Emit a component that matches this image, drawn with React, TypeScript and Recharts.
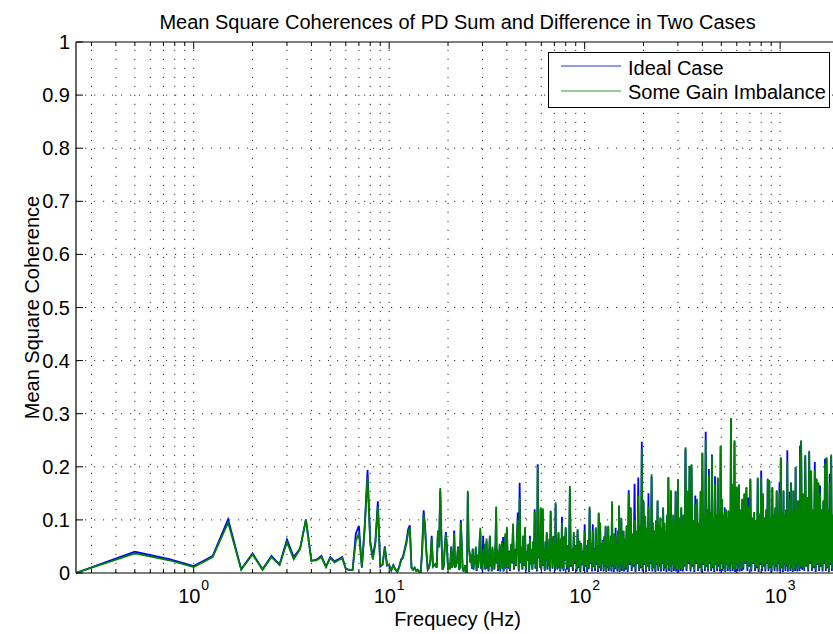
import React from "react";
import { LineChart, Line, XAxis, YAxis, ReferenceLine, Legend } from "recharts";

const FONT = "'Liberation Sans', Arial, Helvetica, sans-serif";

// frequency bands: first bin (Hz) and bin spacing (Hz)
const bandStartHz = [0.25, 26.25, 40.5, 81, 162, 324, 648, 1296];
const bandStepHz = [0.25, 0.25, 0.5, 1, 2, 4, 8, 16];

// mean square coherence, in hundredths, one value per bin
const idealA = [
  0, 4.0, 2.6, 1.3, 3.2, 10.1, 0.7, 3.7,
  0.7, 3.2, 1.6, 6.3, 3.0, 4.6, 10.1, 2.3,
  2.5, 3.2, 1.2, 3.0, 2.2, 2.6, 3.0, 0.8,
  0.6, 0.6, 7.4, 8.9, 1.0, 9.0, 19.4, 6.0,
  3.0, 6.0, 13.5, 1.2, 1.6, 5.0, 1.4, 1.5,
  0.5, 1.5, 0.7, 0.2, 1.2, 2.5, 3.0, 4.5,
  6.0, 8.2, 9.0, 1.0, 0.6, 1.0, 0.4, 0.6,
  0.2, 0.2, 4.5, 11.8, 9.0, 4.0, 0.6, 1.0,
  2.4, 7.0, 1.2, 1.5, 1.7, 1.0, 7.5, 5.0,
  15.5, 6.8, 0.6, 1.2, 5.0, 7.7, 5.0, 0.7,
  1.5, 0.7, 5.0, 1.0, 2.0, 8.0, 1.0, 1.5,
  2.6, 5.0, 0.6, 1.0, 10.0, 5.5, 1.0, 0.4,
  0.5, 1.5, 0.2, 0.2, 15.0, 4.5, 4.0, 2.0,
];
const gainA = [
  0, 3.7, 2.4, 1.1, 3.0, 9.5, 0.6, 3.5,
  0.6, 3.0, 1.5, 5.8, 2.6, 4.5, 10.0, 2.3,
  2.4, 3.0, 1.1, 2.8, 2.0, 2.4, 2.8, 0.8,
  0.6, 0.6, 6.0, 7.5, 1.2, 8.5, 18.0, 5.5,
  2.5, 5.5, 12.5, 1.5, 1.6, 4.8, 1.5, 1.5,
  0.5, 1.4, 0.7, 0.3, 1.0, 2.3, 2.8, 4.2,
  5.5, 7.5, 8.5, 1.2, 0.6, 1.0, 0.4, 0.6,
  0.2, 0.3, 4.0, 11.0, 8.5, 3.8, 0.7, 1.0,
  2.3, 6.5, 1.2, 1.4, 1.6, 1.0, 8.0, 4.8,
  16.0, 6.5, 0.6, 1.2, 4.8, 7.3, 4.8, 0.8,
  1.4, 0.7, 4.8, 1.0, 2.0, 7.5, 1.0, 1.5,
  2.5, 4.8, 0.6, 1.0, 9.5, 5.3, 1.0, 0.4,
  0.5, 1.5, 0.2, 0.2, 15.5, 4.5, 3.8, 2.0,
];

const idealB = [
  3.3, 0.8, 4.6, 0.6, 3.2, 1.8, 4.8, 0.4,
  3.3, 1.0, 2.6, 5.5, 7.8, 0.8, 2.8, 0.4,
  7.0, 1.8, 5.0, 0.6, 2.6, 6.0, 0.8, 3.3,
  0.3, 4.2, 7.0, 1.3, 2.8, 0.3, 4.6, 1.8,
  3.8, 0.6, 2.8, 5.6, 12.0, 1.8, 4.2, 0.4,
  3.3, 1.2, 5.2, 0.3, 3.8, 2.3, 5.6, 0.8,
  6.8, 0.3, 4.8, 1.8, 7.0, 0.8, 3.8, 8.3,
];
const gainB = [
  3.5, 1.0, 4.5, 0.8, 3.0, 2.0, 5.0, 0.5,
  3.5, 1.2, 2.5, 6.0, 8.5, 1.0, 3.0, 0.6,
  4.5, 2.0, 5.5, 0.8, 2.5, 6.5, 1.0, 3.5,
  0.5, 4.0, 7.0, 1.5, 3.0, 0.4, 5.0, 2.0,
  4.0, 0.8, 3.0, 6.0, 12.5, 2.0, 4.5, 0.6,
  3.5, 1.5, 5.5, 0.5, 4.0, 2.5, 6.0, 1.0,
  3.5, 0.4, 5.0, 2.0, 7.5, 1.0, 4.0, 8.6,
];

const idealC = [
  0.8, 4.2, 0.4, 5.3, 1.8, 8.8, 0.6, 4.3,
  1.3, 6.2, 11.4, 0.3, 17.0, 1.8, 4.8, 0.6,
  7.0, 1.3, 8.4, 0.4, 4.2, 2.3, 5.3, 0.2,
  7.0, 1.6, 4.3, 0.6, 5.8, 1.8, 12.0, 0.8,
  4.8, 0.3, 20.5, 2.8, 6.8, 1.0, 12.0, 0.6,
  5.3, 12.0, 1.3, 4.3, 0.4, 5.8, 2.3, 7.5,
  0.6, 4.8, 1.3, 6.3, 0.3, 11.7, 2.8, 5.3,
  0.8, 6.8, 1.8, 4.3, 0.4, 13.0, 1.3, 5.8,
  0.6, 4.8, 7.5, 1.0, 5.3, 0.3, 6.3, 1.8,
  10.6, 0.8, 4.8, 0.4, 6.8, 2.3, 5.3, 8.4,
];
const gainC = [
  1.0, 4.0, 0.6, 5.5, 2.0, 9.3, 0.8, 4.5,
  1.5, 6.5, 10.0, 0.5, 14.2, 2.0, 5.0, 0.8,
  7.0, 1.5, 8.6, 0.6, 4.0, 2.5, 5.5, 0.4,
  6.5, 1.8, 4.5, 0.8, 6.0, 2.0, 11.5, 1.0,
  5.0, 0.5, 20.0, 3.0, 7.0, 1.2, 12.4, 0.8,
  5.5, 12.2, 1.5, 4.5, 0.6, 6.0, 2.5, 7.7,
  0.8, 5.0, 1.5, 6.5, 0.5, 11.5, 3.0, 5.5,
  1.0, 7.0, 2.0, 4.5, 0.6, 13.3, 1.5, 6.0,
  0.8, 5.0, 7.7, 1.2, 5.5, 0.5, 6.5, 2.0,
  9.5, 1.0, 5.0, 0.6, 7.0, 2.5, 5.5, 8.6,
];

const idealD = [
  0.6, 5.2, 0.2, 15.8, 1.2, 4.6, 0.4, 7.5,
  1.7, 5.2, 0.3, 8.0, 0.9, 6.0, 0.2, 5.6,
  1.5, 4.2, 0.4, 9.2, 1.2, 5.2, 0.2, 6.2,
  0.7, 12.2, 1.7, 5.6, 0.3, 9.2, 1.1, 4.7,
  0.4, 8.4, 1.5, 5.2, 0.2, 11.2, 0.9, 9.3,
  0.4, 5.6, 1.7, 6.2, 0.3, 6.8, 1.2, 8.7,
  0.2, 6.3, 0.9, 8.7, 0.4, 5.2, 1.7, 6.8,
  0.3, 13.0, 1.2, 6.2, 0.2, 7.3, 0.7, 8.5,
  1.5, 5.6, 0.3, 7.8, 0.9, 12.5, 0.2, 6.3,
  1.2, 10.2, 0.4, 6.8, 1.7, 7.8, 0.3, 6.3,
];
const gainD = [
  1.0, 5.0, 0.5, 16.4, 1.5, 4.5, 0.8, 7.7,
  2.0, 5.0, 0.6, 8.3, 1.2, 6.1, 0.4, 5.5,
  1.8, 4.0, 0.8, 8.0, 1.5, 5.0, 0.5, 6.0,
  1.0, 12.5, 2.0, 5.5, 0.6, 8.0, 1.4, 4.5,
  0.8, 8.6, 1.8, 5.0, 0.5, 11.4, 1.2, 9.5,
  0.8, 5.5, 2.0, 6.0, 0.6, 7.0, 1.5, 8.9,
  0.4, 6.5, 1.2, 8.9, 0.8, 5.0, 2.0, 7.0,
  0.6, 13.5, 1.5, 6.0, 0.5, 7.5, 1.0, 7.0,
  1.8, 5.5, 0.6, 8.0, 1.2, 12.7, 0.4, 6.5,
  1.5, 10.4, 0.8, 7.0, 2.0, 8.0, 0.6, 6.5,
];

const idealE = [
  0.6, 8.8, 0.2, 15.6, 1.5, 12.2, 0.4, 7.3,
  1.2, 16.8, 0.2, 7.8, 1.7, 18.0, 0.4, 8.8,
  0.9, 24.7, 0.3, 13.4, 1.5, 10.6, 0.2, 8.3,
  1.2, 15.0, 0.4, 7.8, 1.7, 18.2, 0.3, 9.3,
  0.9, 7.8, 0.2, 9.8, 1.5, 13.5, 0.4, 8.8,
  1.2, 10.3, 0.3, 8.3, 1.7, 12.2, 0.4, 9.3,
  0.9, 7.8, 0.2, 10.8, 1.5, 17.9, 0.4, 9.8,
  1.2, 15.4, 0.2, 9.3, 1.7, 10.8, 0.4, 9.8,
  0.9, 15.3, 0.3, 8.8, 1.5, 17.5, 0.2, 10.3,
  1.2, 8.8, 0.4, 12.2, 1.7, 9.8, 0.3, 10.8,
];
const gainE = [
  1.0, 9.0, 0.5, 15.0, 1.8, 12.4, 0.8, 7.5,
  1.5, 10.0, 0.4, 8.0, 2.0, 14.5, 0.8, 9.0,
  1.2, 23.2, 0.6, 13.6, 1.8, 10.8, 0.5, 8.5,
  1.5, 12.5, 0.8, 8.0, 2.0, 18.6, 0.6, 9.5,
  1.2, 8.0, 0.4, 10.0, 1.8, 13.7, 0.8, 9.0,
  1.5, 10.5, 0.6, 8.5, 2.0, 12.4, 0.8, 9.5,
  1.2, 8.0, 0.5, 11.0, 1.8, 18.1, 0.8, 10.0,
  1.5, 15.6, 0.4, 9.5, 2.0, 11.0, 0.8, 10.0,
  1.2, 15.5, 0.6, 9.0, 1.8, 17.7, 0.5, 10.5,
  1.5, 9.0, 0.8, 12.4, 2.0, 10.0, 0.6, 11.0,
];

const idealF = [
  1.2, 23.4, 0.4, 15.3, 1.7, 20.0, 0.3, 20.3,
  1.2, 9.8, 0.2, 14.6, 1.7, 13.8, 0.4, 9.3,
  0.9, 15.3, 0.2, 22.5, 1.5, 10.8, 0.4, 26.6,
  1.2, 11.8, 0.3, 19.6, 1.7, 11.3, 0.4, 22.3,
  0.9, 10.3, 0.2, 18.2, 1.5, 10.8, 0.4, 17.8,
  1.2, 11.8, 0.3, 23.8, 1.7, 13.8, 0.4, 10.8,
  0.9, 12.4, 0.2, 11.8, 1.5, 10.3, 0.4, 11.6,
  1.2, 9.8, 0.3, 29.0, 1.7, 16.6, 0.4, 10.8,
  0.9, 24.8, 0.2, 11.8, 1.5, 16.1, 0.4, 11.3,
  1.2, 16.5, 0.3, 10.8, 1.7, 11.8, 0.4, 13.8,
];
const gainF = [
  1.5, 23.7, 0.8, 15.5, 2.0, 20.2, 0.6, 20.5,
  1.5, 10.0, 0.5, 13.0, 2.0, 14.0, 0.8, 9.5,
  1.2, 15.5, 0.4, 22.7, 1.8, 11.0, 0.8, 25.0,
  1.5, 12.0, 0.6, 18.5, 2.0, 11.5, 0.8, 22.0,
  1.2, 10.5, 0.5, 16.7, 1.8, 11.0, 0.8, 18.0,
  1.5, 12.0, 0.6, 24.0, 2.0, 14.0, 0.8, 11.0,
  1.2, 11.5, 0.4, 12.0, 1.8, 10.5, 0.8, 11.8,
  1.5, 10.0, 0.6, 29.2, 2.0, 16.8, 0.8, 11.0,
  1.2, 25.0, 0.5, 12.0, 1.8, 16.3, 0.8, 11.5,
  1.5, 16.7, 0.6, 11.0, 2.0, 12.0, 0.8, 14.0,
];

const idealG = [
  0.6, 14.8, 1.7, 16.0, 0.4, 14.2, 1.2, 17.6,
  0.3, 10.3, 1.7, 11.3, 0.4, 9.8, 0.9, 17.8,
  0.2, 11.0, 1.5, 19.3, 0.4, 14.8, 1.2, 10.3,
  0.3, 11.8, 1.7, 17.6, 0.4, 17.3, 0.9, 10.3,
  0.2, 16.0, 1.5, 10.8, 0.4, 12.2, 1.2, 15.4,
  0.3, 10.8, 1.7, 17.1, 0.4, 21.6, 0.9, 11.3,
  0.2, 15.4, 1.5, 10.8, 0.4, 11.8, 1.2, 23.1,
  0.3, 11.3, 1.7, 15.3, 0.4, 16.9, 0.9, 11.3,
  0.2, 15.4, 1.5, 10.8, 0.4, 19.8, 1.2, 11.8,
  0.3, 13.5, 1.7, 11.3, 0.4, 24.0, 0.9, 24.8,
];
const gainG = [
  1.0, 15.0, 2.0, 16.2, 0.8, 12.5, 1.5, 17.8,
  0.6, 10.5, 2.0, 11.5, 0.8, 10.0, 1.2, 18.0,
  0.5, 11.2, 1.8, 18.0, 0.8, 15.0, 1.5, 10.5,
  0.6, 12.0, 2.0, 17.8, 0.8, 17.5, 1.2, 10.5,
  0.4, 16.2, 1.8, 11.0, 0.8, 12.4, 1.5, 15.6,
  0.6, 11.0, 2.0, 15.0, 0.8, 21.8, 1.2, 11.5,
  0.5, 15.6, 1.8, 11.0, 0.8, 12.0, 1.5, 21.0,
  0.6, 11.5, 2.0, 14.0, 0.8, 17.1, 1.2, 11.5,
  0.4, 15.6, 1.8, 11.0, 0.8, 20.0, 1.5, 12.0,
  0.6, 13.7, 2.0, 11.5, 0.8, 22.2, 1.2, 25.0,
];

const idealH = [
  0.6, 14.8, 0.4, 22.0, 1.2, 14.1, 0.3, 22.8,
  1.7, 19.1, 0.4, 11.8, 0.9, 20.9, 0.2, 17.6,
  1.5, 16.9, 0.4, 16.5, 1.2, 11.8, 0.3, 13.5,
  1.7, 21.5, 0.4, 21.6, 0.9, 11.8, 0.2, 18.7,
  1.5, 22.1, 0.4, 10.8, 1.2, 15.8, 0.3, 17.8,
  1.7, 11.3, 0.4, 14.8, 0.9,
];
const gainH = [
  1.0, 15.0, 0.8, 22.2, 1.5, 14.3, 0.6, 23.0,
  2.0, 19.3, 0.8, 12.0, 1.2, 19.5, 0.5, 17.8,
  1.8, 17.1, 0.8, 15.0, 1.5, 12.0, 0.6, 13.7,
  2.0, 20.5, 0.8, 21.8, 1.2, 12.0, 0.4, 17.0,
  1.8, 22.3, 0.8, 11.0, 1.5, 16.0, 0.6, 18.0,
  2.0, 11.5, 0.8, 15.0, 1.2,
];

const idealBands = [idealA, idealB, idealC, idealD, idealE, idealF, idealG, idealH];
const gainBands = [gainA, gainB, gainC, gainD, gainE, gainF, gainG, gainH];

const yTicks = [0, 0.1, 0.2, 0.3, 0.4, 0.5, 0.6, 0.7, 0.8, 0.9, 1];
const yGrid = [0.1, 0.2, 0.3, 0.4, 0.5, 0.6, 0.7, 0.8, 0.9];
const xTicks = [1, 10, 100, 1000];
const xGrid = [
  0.3, 0.4, 0.5, 0.6, 0.7, 0.8, 0.9,
  1, 2, 3, 4, 5, 6, 7, 8, 9,
  10, 20, 30, 40, 50, 60, 70, 80, 90,
  100, 200, 300, 400, 500, 600, 700, 800, 900,
  1000,
];

const X_MIN = 0.25;
const X_MAX = 2000;
const PLOT_W = 763;
const PLOT_H = 531;

const data: any[] = [];
idealBands.forEach((band, k) => {
  band.forEach((v, i) => {
    data.push({
      f: bandStartHz[k] + i * bandStepHz[k],
      ideal: v / 100,
      gain: gainBands[k][i] / 100,
    });
  });
});

const YTick = (props: any) => {
  const { y, payload } = props;
  return (
    <text x={70} y={y} dy="0.35em" textAnchor="end" fontSize={20} fontFamily={FONT} fill="#000">
      {payload.value}
    </text>
  );
};

const XTick = (props: any) => {
  const { x, payload } = props;
  const exp = Math.round(Math.log10(payload.value));
  return (
    <g>
      <text x={x - 15.5} y={603} fontSize={20} fontFamily={FONT} fill="#000">10</text>
      <text x={x + 7.5} y={590} fontSize={14} fontFamily={FONT} fill="#000">{exp}</text>
    </g>
  );
};

const LegendBox = (props: any) => {
  const items = props.payload || [];
  return (
    <div style={{ width: 282, height: 56, boxSizing: "border-box", border: "1px solid #000", background: "#fff" }}>
      <svg width={280} height={54} style={{ display: "block" }}>
        {items.map((it: any, i: number) => (
          <g key={i}>
            <line x1={12} x2={72} y1={13 + i * 25} y2={13 + i * 25} stroke={it.color} strokeOpacity={0.55} strokeWidth={1.5} />
            <text x={79} y={21.5 + i * 24.5} fontSize={20} fontFamily={FONT} fill="#000">{it.value}</text>
          </g>
        ))}
      </svg>
    </div>
  );
};

export default function App() {
  const minorLen = 4 / PLOT_H;
  const majorLen = 7 / PLOT_H;
  const yTickHz = X_MIN * Math.pow(10, (7 * Math.log10(X_MAX / X_MIN)) / PLOT_W);
  return (
    <div style={{ position: "absolute", left: 0, top: 0, width: 833, height: 634, overflow: "hidden", background: "#fff" }}>
      <div
        style={{
          position: "absolute", left: 0, top: 11, width: 915, textAlign: "center",
          fontFamily: FONT, fontSize: 20, lineHeight: "23px", color: "#000", whiteSpace: "nowrap",
        }}
      >
        Mean Square Coherences of PD Sum and Difference in Two Cases
      </div>
      <LineChart width={850} height={634} data={data} margin={{ top: 42, right: 11, bottom: 0, left: 0 }}>
        <XAxis
          dataKey="f"
          type="number"
          scale="log"
          domain={[X_MIN, X_MAX]}
          allowDataOverflow
          ticks={xTicks}
          interval={0}
          height={61}
          tickLine={false}
          axisLine={{ stroke: "#000", strokeWidth: 1.2 }}
          tick={(p: any) => <XTick {...p} />}
          label={{
            content: () => (
              <text x={457.5} y={626} textAnchor="middle" fontSize={20} fontFamily={FONT} fill="#000">
                Frequecy (Hz)
              </text>
            ),
          }}
        />
        <YAxis
          type="number"
          domain={[0, 1]}
          ticks={yTicks}
          interval={0}
          width={76}
          tickLine={false}
          axisLine={{ stroke: "#000", strokeWidth: 1.2 }}
          tick={(p: any) => <YTick {...p} />}
          label={{
            content: () => (
              <text
                x={39}
                y={307.5}
                transform="rotate(-90, 39, 307.5)"
                textAnchor="middle"
                fontSize={20}
                fontFamily={FONT}
                fill="#000"
              >
                Mean Square Coherence
              </text>
            ),
          }}
        />
        {xGrid.map((v) => (
          <ReferenceLine key={"gx" + v} x={v} stroke="#333" strokeDasharray="1.2 7.8" />
        ))}
        {yGrid.map((v) => (
          <ReferenceLine key={"gy" + v} y={v} stroke="#333" strokeDasharray="1.2 7.8" />
        ))}
        {xGrid.map((v) => {
          const len = xTicks.includes(v) ? majorLen : minorLen;
          return (
            <ReferenceLine
              key={"tb" + v}
              segment={[{ x: v, y: 0 }, { x: v, y: len }]}
              stroke="#000"
            />
          );
        })}
        {xGrid.map((v) => {
          const len = xTicks.includes(v) ? majorLen : minorLen;
          return (
            <ReferenceLine
              key={"tt" + v}
              segment={[{ x: v, y: 1 }, { x: v, y: 1 - len }]}
              stroke="#000"
            />
          );
        })}
        {yTicks.map((v) => (
          <ReferenceLine
            key={"ty" + v}
            segment={[{ x: X_MIN, y: v }, { x: yTickHz, y: v }]}
            stroke="#000"
          />
        ))}
        <ReferenceLine y={1} stroke="#000" strokeWidth={1.2} />
        <Line
          dataKey="ideal"
          name="Ideal Case"
          stroke="#0000ff"
          strokeWidth={1.8}
          dot={false}
          type="linear"
          isAnimationActive={false}
        />
        <Line
          dataKey="gain"
          name="Some Gain Imbalance"
          stroke="#008000"
          strokeWidth={1.8}
          dot={false}
          type="linear"
          isAnimationActive={false}
        />
        <Legend
          layout="vertical"
          align="center"
          verticalAlign="middle"
          content={(p: any) => <LegendBox {...p} />}
          wrapperStyle={{ left: 548, top: 52, width: 282, height: 56 }}
        />
      </LineChart>
    </div>
  );
}
